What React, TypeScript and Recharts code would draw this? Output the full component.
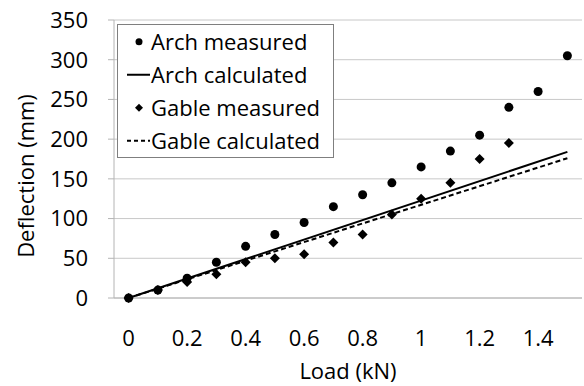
import React from 'react';
import {
  ComposedChart,
  Line,
  XAxis,
  YAxis,
  CartesianGrid,
  Legend,
} from 'recharts';

// loads (kN) for every category on the x axis
const loads = [0, 0.1, 0.2, 0.3, 0.4, 0.5, 0.6, 0.7, 0.8, 0.9, 1.0, 1.1, 1.2, 1.3, 1.4, 1.5];
const archMeasured = [0, 10, 25, 45, 65, 80, 95, 115, 130, 145, 165, 185, 205, 240, 260, 305];
const gableMeasured = [0, 10, 20, 30, 45, 50, 55, 70, 80, 105, 125, 145, 175, 195];

// calculated lines are straight, so only their end points
const calcLoads = [0, 1.5];
const archCalculated = [0, 184];
const gableCalculated = [0, 176];

const xTickLabels = [0, 0.2, 0.4, 0.6, 0.8, 1, 1.2, 1.4];
const yTicks = [0, 50, 100, 150, 200, 250, 300, 350];

const seriesNames = ['Arch measured', 'Arch calculated', 'Gable measured', 'Gable calculated'];

const data = loads.map((load, i) => {
  const c = calcLoads.indexOf(load);
  return {
    load,
    archMeasured: archMeasured[i] ?? null,
    gableMeasured: gableMeasured[i] ?? null,
    archCalculated: c >= 0 ? archCalculated[c] : null,
    gableCalculated: c >= 0 ? gableCalculated[c] : null,
  };
});

const step = 0.1;
const xDomain = [loads[0] - step / 2, loads[loads.length - 1] + step / 2];
const boundaryTicks = [...loads.map((v) => v - step / 2), loads[loads.length - 1] + step / 2];

const AXIS = '#b4b4b4';
const GRID = '#c8c8c8';
const FONT = 22;

const renderCircle = (props: any) => {
  const { cx, cy, index, value } = props;
  if (value == null || cy == null) return <g key={`c-${index}`} />;
  return <circle key={`c-${index}`} cx={cx} cy={cy} r={4.5} fill="#000" />;
};

const renderDiamond = (props: any) => {
  const { cx, cy, index, value } = props;
  if (value == null || cy == null) return <g key={`d-${index}`} />;
  const s = 5;
  return (
    <polygon
      key={`d-${index}`}
      points={`${cx},${cy - s} ${cx + s},${cy} ${cx},${cy + s} ${cx - s},${cy}`}
      fill="#000"
    />
  );
};

function LegendMarker({ kind }: { kind: number }) {
  const cy = 16.75;
  return (
    <svg width={33} height={33.5} style={{ display: 'block' }}>
      {kind === 0 && <circle cx={21} cy={cy} r={3.5} fill="#000" />}
      {kind === 1 && <line x1={9} x2={32} y1={cy} y2={cy} stroke="#000" strokeWidth={2} />}
      {kind === 2 && (
        <polygon points={`21,${cy - 4} 25,${cy} 21,${cy + 4} 17,${cy}`} fill="#000" />
      )}
      {kind === 3 && (
        <line x1={9} x2={32} y1={cy} y2={cy} stroke="#000" strokeWidth={2} strokeDasharray="4 3" />
      )}
    </svg>
  );
}

const renderLegend = () => (
  <div
    style={{
      width: 217,
      height: 134,
      border: '1px solid #7f7f7f',
      background: '#fff',
      boxSizing: 'border-box',
      fontSize: FONT,
      color: '#000',
    }}
  >
    {seriesNames.map((name, i) => (
      <div key={name} style={{ display: 'flex', alignItems: 'center', height: 33 }}>
        <LegendMarker kind={i} />
        <span style={{ whiteSpace: 'nowrap', lineHeight: '33px' }}>{name}</span>
      </div>
    ))}
  </div>
);

const yTitle = () => (
  <text
    x={34}
    y={176}
    transform="rotate(-90 34 176)"
    textAnchor="middle"
    fontSize={FONT}
    fill="#000"
  >
    Deflection (mm)
  </text>
);

export default function App() {
  return (
    <div
      style={{
        position: 'absolute',
        left: 0,
        top: 0,
        width: 584,
        height: 386,
        background: '#fff',
        fontFamily: "'Open Sans', sans-serif",
      }}
    >
      <ComposedChart width={584} height={386} data={data} margin={{ top: 20, right: 2, bottom: 0, left: 0 }}>
        <CartesianGrid horizontal vertical={false} stroke={GRID} strokeWidth={1} />
        <XAxis
          xAxisId="a"
          type="number"
          dataKey="load"
          domain={xDomain}
          ticks={boundaryTicks}
          allowDataOverflow
          tick={false}
          tickSize={7}
          height={8}
          stroke={AXIS}
        />
        <XAxis
          xAxisId="b"
          type="number"
          dataKey="load"
          domain={xDomain}
          ticks={xTickLabels}
          allowDataOverflow
          axisLine={false}
          tickLine={false}
          tickSize={0}
          tickMargin={24}
          height={80}
          tick={{ fontSize: FONT, fill: '#000' }}
          label={{ value: 'Load (kN)', position: 'insideBottom', offset: 7, fontSize: FONT, fill: '#000' }}
        />
        <YAxis
          type="number"
          domain={[0, 350]}
          ticks={yTicks}
          width={114}
          stroke={AXIS}
          tickSize={6}
          tickMargin={20}
          tick={{ fontSize: FONT, fill: '#000' }}
          label={yTitle}
        />
        <Legend
          layout="vertical"
          align="center"
          verticalAlign="middle"
          content={renderLegend}
          wrapperStyle={{ left: 117, top: 24, width: 217, height: 134 }}
        />
        <Line
          xAxisId="a"
          dataKey="archCalculated"
          name="Arch calculated"
          stroke="#000"
          strokeWidth={2}
          dot={false}
          activeDot={false}
          connectNulls
          isAnimationActive={false}
        />
        <Line
          xAxisId="a"
          dataKey="gableCalculated"
          name="Gable calculated"
          stroke="#000"
          strokeWidth={2}
          strokeDasharray="5 3"
          dot={false}
          activeDot={false}
          connectNulls
          isAnimationActive={false}
        />
        <Line
          xAxisId="a"
          dataKey="archMeasured"
          name="Arch measured"
          stroke="none"
          dot={renderCircle}
          activeDot={false}
          isAnimationActive={false}
        />
        <Line
          xAxisId="a"
          dataKey="gableMeasured"
          name="Gable measured"
          stroke="none"
          dot={renderDiamond}
          activeDot={false}
          isAnimationActive={false}
        />
      </ComposedChart>
    </div>
  );
}
